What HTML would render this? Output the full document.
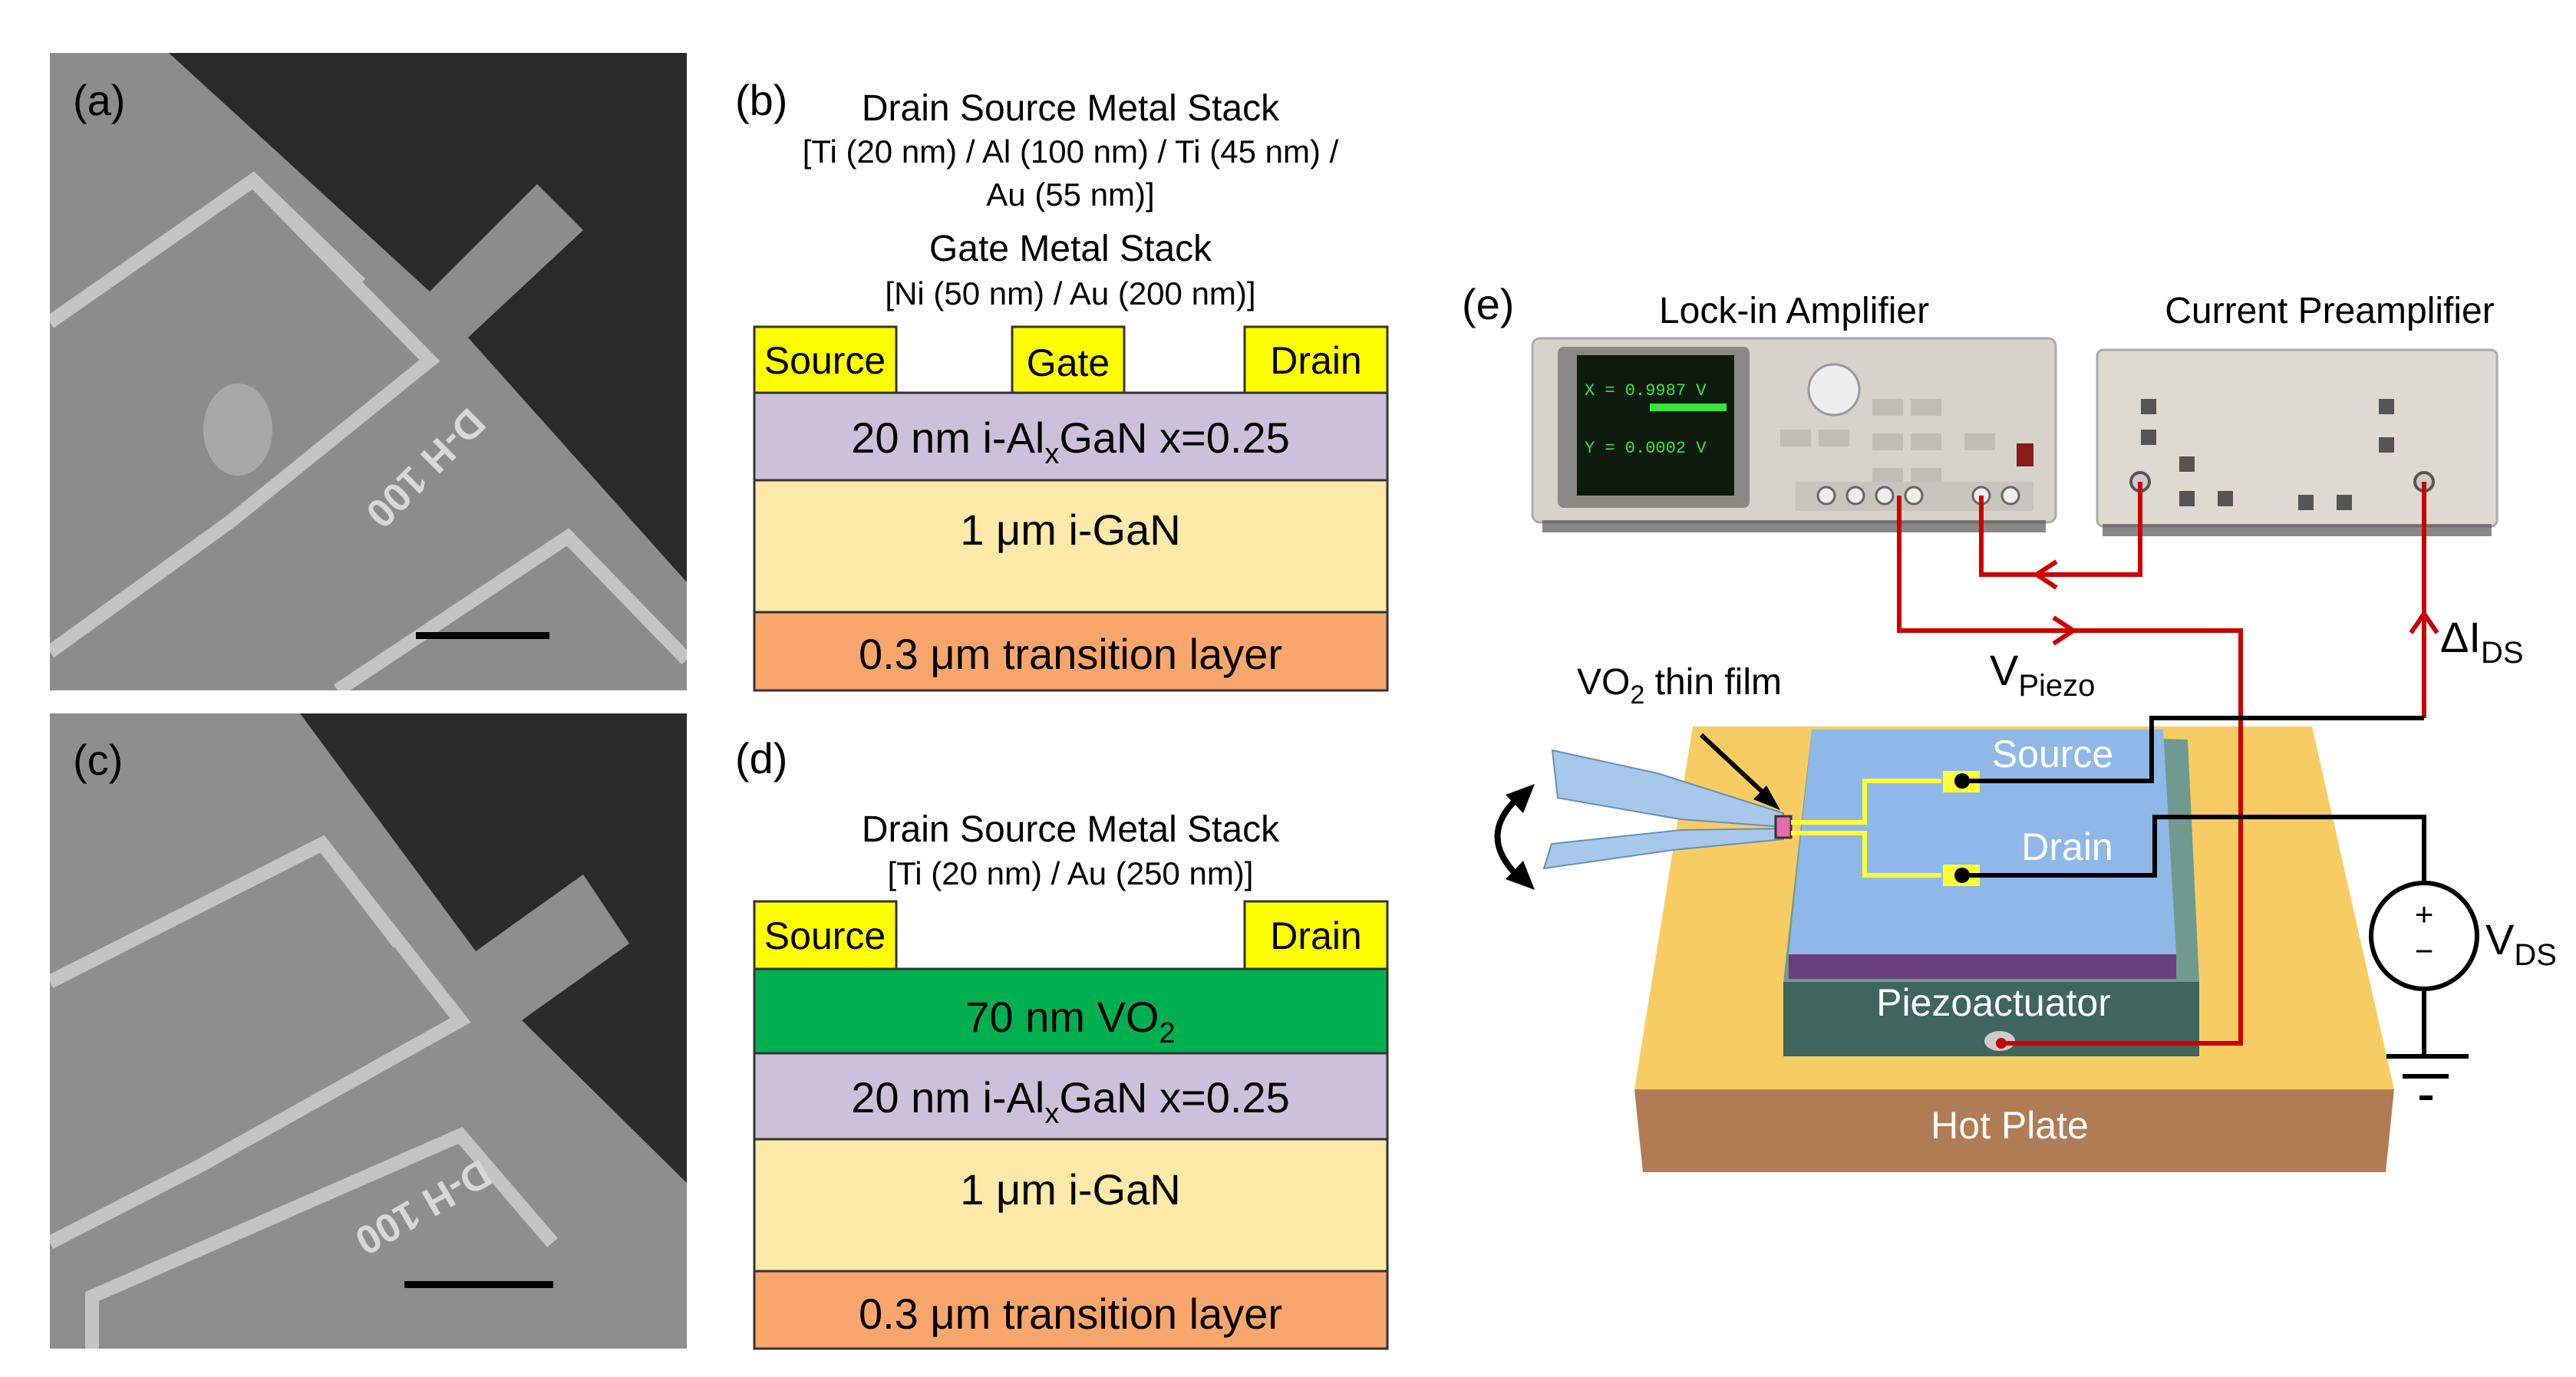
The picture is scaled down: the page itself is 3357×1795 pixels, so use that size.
<!DOCTYPE html>
<html><head><meta charset="utf-8"><style>
html,body{margin:0;padding:0;background:#fff;}
svg{display:block;font-family:"Liberation Sans",sans-serif;}
</style></head><body>
<svg width="3357" height="1795" viewBox="0 0 3357 1795" xmlns="http://www.w3.org/2000/svg">
<defs>
<clipPath id="ca"><rect x="65" y="69" width="830" height="831"/></clipPath>
<clipPath id="cc"><rect x="65" y="930" width="830" height="828"/></clipPath>
</defs>
<!-- SEM (a) -->
<g clip-path="url(#ca)">
<rect x="65" y="69" width="830" height="831" fill="#2a2a2a"/>
<polygon points="65,69 220,69 560,380 700,240 760,300 610,440 895,759 895,900 65,900" fill="#8c8c8c"/>
<g fill="none" stroke="#c4c4c4" stroke-width="18">
<polyline points="65,420 330,235 560,470 300,680 65,850"/>
<polyline points="330,235 470,370"/>
<polyline points="440,900 740,700 895,860"/>
</g>
<text x="440" y="600" fill="#d8d8d8" font-size="52" font-weight="bold" transform="rotate(135 540 600)">D-H 100</text>
<ellipse cx="310" cy="560" rx="45" ry="60" fill="#a8a8a8"/>
<rect x="542" y="824" width="174" height="9" fill="#000"/>
</g>
<text x="95" y="150" font-size="56" fill="#000">(a)</text>
<!-- SEM (c) -->
<g clip-path="url(#cc)">
<rect x="65" y="930" width="830" height="828" fill="#2b2b2b"/>
<polygon points="65,930 391,930 620,1240 760,1140 820,1230 680,1330 895,1542 895,1758 65,1758" fill="#8e8e8e"/>
<g fill="none" stroke="#c4c4c4" stroke-width="18">
<polyline points="65,1280 420,1100 600,1330 260,1520 65,1620"/>
<polyline points="420,1100 520,1230"/>
<polyline points="120,1758 120,1690 600,1480 720,1620"/>
</g>
<text x="440" y="1560" fill="#d8d8d8" font-size="52" font-weight="bold" transform="rotate(150 540 1560)">D-H 100</text>
<rect x="527" y="1670" width="194" height="9" fill="#000"/>
</g>
<text x="95" y="1010" font-size="56" fill="#000">(c)</text>

<!-- (b) -->
<g font-size="48" text-anchor="middle" fill="#000">
<text x="958" y="150" text-anchor="start" font-size="56">(b)</text>
<text x="1395" y="157">Drain Source Metal Stack</text>
<text x="1395" y="212" font-size="42">[Ti (20 nm) / Al (100 nm) / Ti (45 nm) /</text>
<text x="1395" y="268" font-size="42">Au (55 nm)]</text>
<text x="1395" y="340">Gate Metal Stack</text>
<text x="1395" y="397" font-size="42">[Ni (50 nm) / Au (200 nm)]</text>
</g>
<g stroke="#333" stroke-width="3">
<rect x="983" y="426" width="185" height="86" fill="#ffff00"/>
<rect x="1319" y="426" width="146" height="86" fill="#ffff00"/>
<rect x="1622" y="426" width="186" height="86" fill="#ffff00"/>
<rect x="983" y="512" width="825" height="114" fill="#ccc0da"/>
<rect x="983" y="626" width="825" height="172" fill="#fde9a8"/>
<rect x="983" y="798" width="825" height="102" fill="#f9a66c"/>
</g>
<g font-size="50" text-anchor="middle" fill="#000">
<text x="1075" y="487">Source</text>
<text x="1392" y="490">Gate</text>
<text x="1715" y="487">Drain</text>
<text x="1395" y="590" font-size="56">20 nm i-Al<tspan font-size="38" dy="14">x</tspan><tspan dy="-14">GaN x=0.25</tspan></text>
<text x="1395" y="710" font-size="56">1 μm i-GaN</text>
<text x="1395" y="872" font-size="56">0.3 μm transition layer</text>
</g>
<!-- (d) -->
<g font-size="48" text-anchor="middle" fill="#000">
<text x="958" y="1008" text-anchor="start" font-size="56">(d)</text>
<text x="1395" y="1097">Drain Source Metal Stack</text>
<text x="1395" y="1153" font-size="42">[Ti (20 nm) / Au (250 nm)]</text>
</g>
<g stroke="#333" stroke-width="3">
<rect x="983" y="1175" width="185" height="88" fill="#ffff00"/>
<rect x="1622" y="1175" width="186" height="88" fill="#ffff00"/>
<rect x="983" y="1263" width="825" height="110" fill="#00b050"/>
<rect x="983" y="1373" width="825" height="112" fill="#ccc0da"/>
<rect x="983" y="1485" width="825" height="172" fill="#fde9a8"/>
<rect x="983" y="1657" width="825" height="101" fill="#f9a66c"/>
</g>
<g font-size="50" text-anchor="middle" fill="#000">
<text x="1075" y="1237">Source</text>
<text x="1715" y="1237">Drain</text>
<text x="1395" y="1345" font-size="56">70 nm VO<tspan font-size="38" dy="14">2</tspan></text>
<text x="1395" y="1450" font-size="56">20 nm i-Al<tspan font-size="38" dy="14">x</tspan><tspan dy="-14">GaN x=0.25</tspan></text>
<text x="1395" y="1570" font-size="56">1 μm i-GaN</text>
<text x="1395" y="1732" font-size="56">0.3 μm transition layer</text>
</g>

<!-- (e) -->
<text x="1905" y="416" font-size="56">(e)</text>
<text x="2338" y="421" font-size="48" text-anchor="middle">Lock-in Amplifier</text>
<text x="3036" y="421" font-size="48" text-anchor="middle">Current Preamplifier</text>
<!-- lock-in -->
<rect x="1997" y="441" width="682" height="240" rx="10" fill="#d6d3cc" stroke="#aaa" stroke-width="3"/>
<rect x="2010" y="678" width="656" height="16" fill="#555" opacity="0.7"/>
<rect x="2030" y="452" width="250" height="210" rx="8" fill="#8a8985"/>
<rect x="2055" y="463" width="205" height="183" fill="#0d1a0d"/>
<g fill="#39e639" font-family="Liberation Mono,monospace" font-size="22"><text x="2065" y="515">X = 0.9987 V</text><text x="2065" y="590">Y = 0.0002 V</text></g>
<rect x="2150" y="526" width="100" height="10" fill="#39e639"/>
<circle cx="2390" cy="508" r="33" fill="#eee" stroke="#999" stroke-width="3"/>
<g fill="#c0bdb5"><rect x="2320" y="560" width="40" height="22"/><rect x="2370" y="560" width="40" height="22"/><rect x="2440" y="520" width="40" height="22"/><rect x="2490" y="520" width="40" height="22"/><rect x="2440" y="565" width="40" height="22"/><rect x="2490" y="565" width="40" height="22"/><rect x="2440" y="610" width="40" height="22"/><rect x="2490" y="610" width="40" height="22"/><rect x="2560" y="565" width="40" height="22"/></g>
<rect x="2628" y="578" width="22" height="30" fill="#8b1a1a"/>
<rect x="2340" y="628" width="310" height="38" fill="#c8c5be"/>
<g fill="#eee" stroke="#666" stroke-width="3"><circle cx="2380" cy="646" r="11"/><circle cx="2418" cy="646" r="11"/><circle cx="2456" cy="646" r="11"/><circle cx="2494" cy="646" r="11"/><circle cx="2582" cy="646" r="11"/><circle cx="2620" cy="646" r="11"/></g>
<!-- preamp -->
<rect x="2733" y="456" width="521" height="230" rx="8" fill="#dedad2" stroke="#aaa" stroke-width="3"/>
<rect x="2740" y="683" width="507" height="16" fill="#555" opacity="0.7"/>
<g fill="#555"><rect x="2790" y="520" width="20" height="20"/><rect x="2790" y="560" width="20" height="20"/><rect x="2840" y="595" width="20" height="20"/><rect x="2840" y="640" width="20" height="20"/><rect x="2890" y="640" width="20" height="20"/><rect x="2995" y="645" width="20" height="20"/><rect x="3045" y="645" width="20" height="20"/><rect x="3100" y="520" width="20" height="20"/><rect x="3100" y="570" width="20" height="20"/></g>
<circle cx="2789" cy="628" r="12" fill="#ccc" stroke="#555" stroke-width="4"/>
<circle cx="3159" cy="628" r="12" fill="#ccc" stroke="#555" stroke-width="4"/>

<!-- hot plate -->
<polygon points="2130,1420 3120,1420 3109,1528 2141,1528" fill="#b07c55"/>
<polygon points="2206,947 3013,947 3120,1420 2130,1420" fill="#f7cd63"/>
<!-- piezo -->
<polygon points="2361,951 2851,964 2866,1280 2324,1280" fill="#6e9a91"/>
<rect x="2324" y="1280" width="542" height="97" fill="#40645e"/>
<!-- substrate -->
<polygon points="2361,951 2819,951 2836,1244 2331,1244" fill="#8fb8e8"/>
<rect x="2331" y="1244" width="505" height="32" fill="#6b3f7a"/>
<!-- cantilevers -->
<polygon points="2023,978 2160,1008 2324,1060 2324,1078 2190,1068 2030,1040" fill="#a6c8ea" stroke="#6a8cb5" stroke-width="2"/>
<polygon points="2324,1080 2324,1094 2180,1108 2012,1132 2022,1100 2190,1082" fill="#a6c8ea" stroke="#6a8cb5" stroke-width="2"/>
<rect x="2314" y="1064" width="20" height="28" fill="#e86ab0" stroke="#333" stroke-width="3"/>
<!-- yellow traces -->
<g fill="none" stroke="#ffff33" stroke-width="6"><polyline points="2334,1072 2430,1072 2430,1018 2530,1018"/><polyline points="2334,1086 2430,1086 2430,1141 2530,1141"/></g>
<rect x="2532" y="1005" width="48" height="28" fill="#ffff33"/>
<rect x="2532" y="1127" width="48" height="28" fill="#ffff33"/>
<!-- piezo contact -->
<ellipse cx="2606" cy="1357" rx="20" ry="13" fill="#ccc"/>
<!-- labels -->
<g fill="#fff" font-size="50" text-anchor="middle"><text x="2675" y="1000">Source</text><text x="2694" y="1121">Drain</text><text x="2598" y="1324">Piezoactuator</text><text x="2619" y="1484">Hot Plate</text></g>
<!-- wires -->
<g fill="none" stroke="#cc0000" stroke-width="6">
<polyline points="2475,646 2475,822 2920,822 2920,1360 2608,1360"/>
<polyline points="2582,646 2582,749 2789,749 2789,628"/>
<polyline points="3159,628 3159,936"/>
<polyline points="2676,805 2702,822 2676,839"/>
<polyline points="2680,732 2654,749 2680,766"/>
<polyline points="3142,825 3159,800 3176,825"/>
</g>
<circle cx="2608" cy="1360" r="7" fill="#cc0000"/>
<g fill="none" stroke="#000" stroke-width="6">
<polyline points="3159,936 2804,936 2804,1018 2557,1018"/>
<polyline points="2557,1141 2808,1141 2808,1065 3159,1065 3159,1151"/>
<circle cx="3159" cy="1220" r="69"/>
<polyline points="3159,1289 3159,1377"/>
<line x1="3110" y1="1377" x2="3217" y2="1377"/>
<line x1="3131" y1="1403" x2="3191" y2="1403"/>
<line x1="3153" y1="1431" x2="3170" y2="1431"/>
<line x1="2217" y1="958" x2="2305" y2="1040"/>
</g>
<path d="M1978,1040 Q1925,1090 1978,1142" fill="none" stroke="#000" stroke-width="8"/>
<polygon points="2000,1022 1962,1036 1985,1060" fill="#000"/>
<polygon points="2000,1160 1962,1146 1985,1122" fill="#000"/>
<polygon points="2320,1056 2285,1042 2302,1024" fill="#000"/>
<circle cx="2557" cy="1018" r="10" fill="#000"/>
<circle cx="2557" cy="1141" r="10" fill="#000"/>
<text x="3159" y="1206" font-size="42" text-anchor="middle">+</text>
<text x="3159" y="1254" font-size="42" text-anchor="middle">−</text>
<g font-size="56"><text x="2593" y="893">V<tspan font-size="40" dy="14">Piezo</tspan></text>
<text x="3180" y="850">ΔI<tspan font-size="40" dy="14">DS</tspan></text>
<text x="3239" y="1244">V<tspan font-size="40" dy="14">DS</tspan></text>
<text x="2055" y="905" font-size="48">VO<tspan font-size="34" dy="12">2</tspan><tspan dy="-12"> thin film</tspan></text></g>
</svg>
</body></html>
